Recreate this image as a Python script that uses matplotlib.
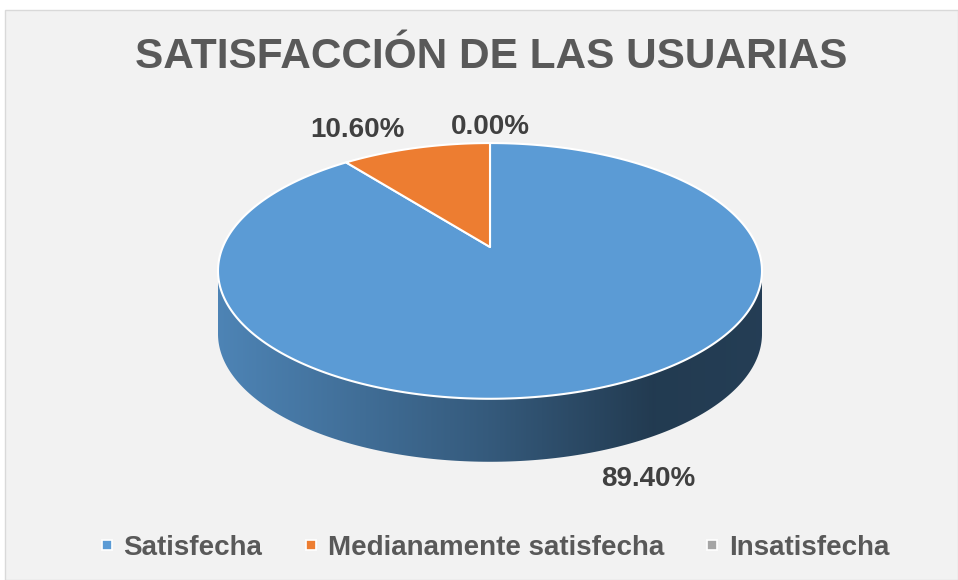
import numpy as np
import matplotlib
matplotlib.use("Agg")
import matplotlib.pyplot as plt
from matplotlib.patches import Polygon, Rectangle
from matplotlib.lines import Line2D

# data
categories = ["Satisfecha", "Medianamente satisfecha", "Insatisfecha"]
percentages = [89.40, 10.60, 0.00]
colors = ["#5b9bd5", "#ed7d31", "#a5a5a5"]

title = "SATISFACCIÓN DE LAS USUARIAS"
text_color = "#595959"

plt.rcParams["font.family"] = ["Liberation Sans", "DejaVu Sans"]

W, H = 958, 580
fig = plt.figure(figsize=(W / 100, H / 100), dpi=100, facecolor="white")

# grey chart area with thin border (behind everything)
fig.patches.append(Rectangle((5 / W, 0), 1 - 5 / W, 1 - 10 / H, transform=fig.transFigure,
                             facecolor="#f2f2f2", edgecolor="#d9d9d9", linewidth=1, zorder=-5))

# axes in pixel units (y downwards) for the 3D pie
ax = fig.add_axes([0, 0, 1, 1])
ax.patch.set_visible(False)
ax.axis("off")

# perspective view of a tilted disc: centre, radii, tilt factor, wall height
cx, cy = 490, 247
rx, ry = 267.2, 123.4
k = 0.187
wall = 63


def project(t):
    x, y = np.cos(t), np.sin(t)
    s = 1 + k * y
    return np.column_stack([cx + rx * x / s, cy - ry * y / s])


# slice angles: start at 12 o'clock, clockwise
frac = np.array(percentages) / sum(percentages)
ends = 90 - 360 * np.cumsum(frac)
starts = np.concatenate([[90], ends[:-1]])

# visible front wall between the silhouette points
t_left = np.degrees(np.pi + np.arcsin(k))
t_right = np.degrees(2 * np.pi - np.arcsin(k))
shade = np.interp(np.linspace(0, 1, 400), [0, 0.5, 0.8, 1.0], [0.85, 0.58, 0.38, 0.40])
x_left, x_right = project(np.radians([t_left]))[0, 0], project(np.radians([t_right]))[0, 0]

for a0, a1, col in zip(starts, ends, colors):
    lo, hi = min(a0, a1), max(a0, a1)
    for off in (-360, 0, 360):
        a, b = max(lo, t_left + off), min(hi, t_right + off)
        if b <= a:
            continue
        top = project(np.radians(np.linspace(a, b, 200)))
        bot = top[::-1] + [0, wall]
        poly = Polygon(np.vstack([top, bot]), closed=True, facecolor="none", edgecolor="none")
        ax.add_patch(poly)
        rgb = np.array(matplotlib.colors.to_rgb(col))
        img = (shade[:, None] * rgb[None, :])[None, :, :]
        im = ax.imshow(img, extent=(x_left, x_right, cy + ry / (1 - k) + wall + 2, cy),
                       aspect="auto", zorder=1, interpolation="bilinear")
        im.set_clip_path(poly)

# top face slices
for a0, a1, col in zip(starts, ends, colors):
    if abs(a1 - a0) < 1e-9:
        continue
    arc = project(np.radians(np.linspace(a0, a1, 300)))
    pts = np.vstack([[cx, cy], arc])
    ax.add_patch(Polygon(pts, closed=True, facecolor=col, edgecolor="white",
                         linewidth=1.5, joinstyle="round", zorder=3))

ax.set_xlim(0, W)
ax.set_ylim(H, 0)

# title
fig.text(491 / W, 1 - 57 / H, title, ha="center", va="center", fontsize=30.5,
         fontweight="bold", color=text_color)

# data labels
label_pos = [(648, 479), (357, 130), (490, 127)]
for p, (px, py) in zip(percentages, label_pos):
    fig.text(px / W, 1 - py / H, f"{p:.2f}%", ha="center", va="center", fontsize=20,
             fontweight="bold", color="#404040")

# legend
handles = [Line2D([], [], marker="s", linestyle="none", markersize=7,
                  markerfacecolor=c, markeredgecolor="white", markeredgewidth=1.2)
           for c in colors]
fig.legend(handles, categories, loc="center", bbox_to_anchor=(494 / W, 1 - 548 / H), ncol=3,
           frameon=False, handlelength=0.6, handletextpad=0.3, columnspacing=1.45,
           prop=dict(size=20, weight="bold"), labelcolor=text_color)

fig.savefig("out.png", dpi=100, facecolor="white")
